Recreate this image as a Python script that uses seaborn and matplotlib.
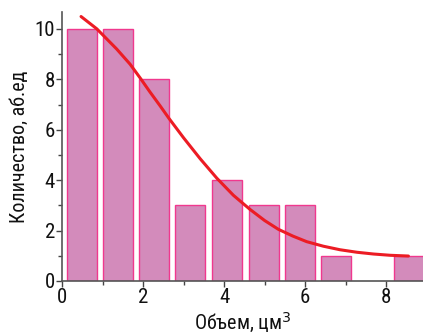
import matplotlib
matplotlib.use("Agg")
import matplotlib.pyplot as plt
import seaborn as sns
from matplotlib.ticker import MultipleLocator

# histogram bins (centre of each bin) and counts
bin_centers = [0.49, 1.38, 2.27, 3.17, 4.07, 4.99, 5.88, 6.77, 7.66, 8.57]
counts      = [10, 10, 8, 3, 4, 3, 3, 1, 0, 1]

# fitted curve
fit_x = [0.47, 0.86, 1.35, 1.68, 1.93, 2.17, 2.42, 2.64, 3.00, 3.41, 3.82,
         4.23, 4.64, 5.00, 5.34, 5.70, 6.04, 6.45, 6.86, 7.28, 7.69, 8.10, 8.55]
fit_y = [10.49, 10.0, 9.2, 8.6, 8.05, 7.5, 6.95, 6.45, 5.68, 4.85, 4.08,
         3.40, 2.84, 2.40, 2.05, 1.78, 1.56, 1.38, 1.24, 1.14, 1.07, 1.02, 0.99]

sns.set_theme(style="ticks")
plt.rcParams["font.family"] = ["Roboto Condensed", "Liberation Sans Narrow",
                               "Liberation Sans", "DejaVu Sans"]

fig = plt.figure(figsize=(4.23, 3.35), dpi=100)
ax = fig.add_axes([0.1466, 0.1612, 0.8534, 0.803])

xs = [c for c, n in zip(bin_centers, counts) if n > 0]
ys = [n for n in counts if n > 0]
sns.barplot(x=xs, y=ys, native_scale=True, width=0.74 / 0.89,
            color="#d38bbb", saturation=1, edgecolor="#f0388e",
            linewidth=1.0, ax=ax)
sns.lineplot(x=fit_x, y=fit_y, sort=False, color="#ec1c24",
             linewidth=2.2, ax=ax)

ax.set_xlim(0, 8.91)
ax.set_ylim(0, 10.67)
ax.xaxis.set_major_locator(MultipleLocator(2))
ax.xaxis.set_minor_locator(MultipleLocator(1))
ax.yaxis.set_major_locator(MultipleLocator(2))
ax.yaxis.set_minor_locator(MultipleLocator(1))
ax.tick_params(which="major", direction="out", length=4, width=1,
               color="#444444", labelsize=15, labelcolor="#111111", pad=1)
ax.tick_params(which="minor", direction="out", length=3, width=1,
               color="#444444")

for side in ["top", "right"]:
    ax.spines[side].set_visible(False)
for side in ["left", "bottom"]:
    ax.spines[side].set_color("#555555")
    ax.spines[side].set_linewidth(1.2)

ax.set_xlabel("Объем, цм$^3$", fontsize=14.5, color="#111111", labelpad=3)
ax.set_ylabel("Количество, аб.ед", fontsize=14.5, color="#111111", labelpad=4)

fig.savefig("out.png", dpi=100)
plt.close(fig)
